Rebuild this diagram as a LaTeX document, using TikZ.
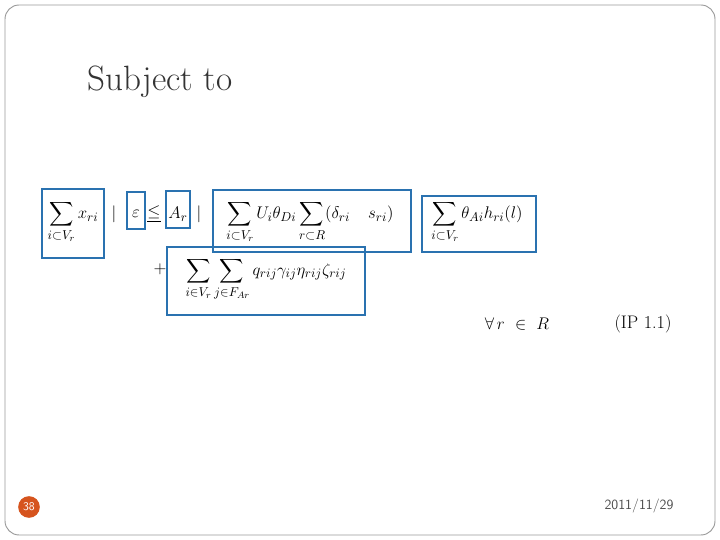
\documentclass[tikz,border=0pt]{standalone}
\usepackage{amsmath}
\definecolor{boxblue}{RGB}{42,114,176}
\definecolor{numorange}{RGB}{214,84,30}
\tikzset{
  hilite/.style={draw=boxblue, line width=2.2pt},
  formula/.style={inner sep=0pt, font=\fontsize{15.5}{19}\selectfont},
}
\begin{document}
\begin{tikzpicture}[x=0.03cm,y=-0.03cm]
	\useasboundingbox (0,0) rectangle (720,540);
	% Folienrahmen
	\draw[gray!80, line width=0.8pt, rounded corners=12pt] (5,5) rectangle (715,535);
	\node[font=\fontsize{30}{34}\selectfont, text=black!80] (title) at (160,82) {Subject to};
	
	% Nebenbedingung
	\node[formula] (sumx) at (73,222) {$\displaystyle\sum_{i\subset V_r} x_{ri}$};
	\node[formula] (bar1) at (114,214) {$|$};
	\node[formula] (eps) at (136,214) {$\varepsilon$};
	\node[formula] (leq) at (154,214) {$\underline{\leq}$};
	\node[formula] (ar) at (178,214) {$A_r$};
	\node[formula] (bar2) at (199,214) {$|$};
	\node[formula] (sumu) at (310,222) {$\displaystyle\sum_{i\subset V_r} U_i\theta_{Di}\sum_{r\subset R}(\delta_{ri}\quad s_{ri})$};
	\node[formula] (sumh) at (477,222) {$\displaystyle\sum_{i\subset V_r}\theta_{Ai}h_{ri}(l)$};
	\node[formula] (plus) at (160,269) {$+$};
	\node[formula] (sumq) at (266,279) {$\displaystyle\sum_{i\in V_r}\sum_{j\in F_{Ar}} q_{rij}\gamma_{ij}\eta_{rij}\zeta_{rij}$};
	\node[formula] (forall) at (517,324) {$\forall\, r\ \in\ R$};
	\node[formula] (ip) at (643,324) {(IP 1.1)};
	
	% Markierungen
	\draw[hilite] (42,189) rectangle (104,258);
	\draw[hilite] (127,192) rectangle (145,229);
	\draw[hilite] (166,191) rectangle (190,228);
	\draw[hilite] (213,190) rectangle (411,252);
	\draw[hilite] (422,196) rectangle (536,252);
	\draw[hilite] (167,247) rectangle (365,315);
	
	% Fusszeile
	\node[circle, fill=numorange, text=white, inner sep=1pt, minimum size=0.65cm, font=\sffamily] (num) at (29,507) {38};
	\node[text=black!70, font=\sffamily\large] (date) at (639,506) {2011/11/29};
\end{tikzpicture}
\end{document}
